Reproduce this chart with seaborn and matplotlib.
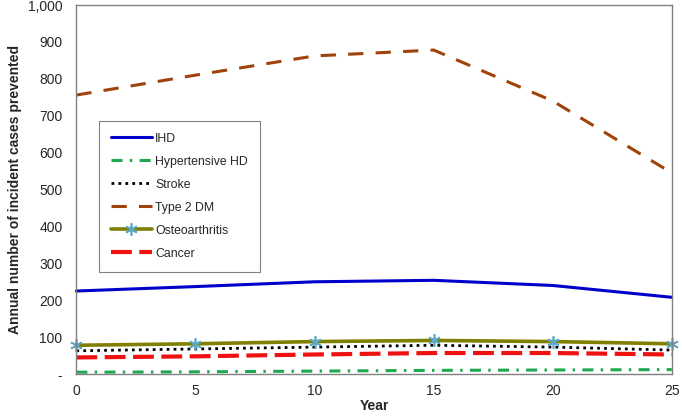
import matplotlib
matplotlib.use("Agg")
import matplotlib.pyplot as plt
import seaborn as sns
import pandas as pd
from matplotlib.ticker import FuncFormatter

# values
years = [0, 5, 10, 15, 20, 25]
ihd = [225, 237, 250, 254, 240, 208]
hypertensive_hd = [5, 6, 8, 10, 11, 12]
stroke = [63, 68, 73, 78, 73, 65]
type2_dm = [756, 810, 862, 878, 740, 545]
osteoarthritis = [78, 82, 88, 91, 88, 82]
cancer = [45, 48, 53, 57, 57, 53]

sns.set_style("white")
plt.rcParams['font.family'] = ['Liberation Sans', 'DejaVu Sans']

fig = plt.figure(figsize=(6.82, 4.17), dpi=100)
ax = fig.add_axes([0.112, 0.103, 0.873, 0.885])

series = [
    ("IHD", ihd, dict(color="#0000CC", linestyle="-", linewidth=2.2)),
    ("Hypertensive HD", hypertensive_hd, dict(color="#1EA84F", linestyle=(0, (3.6, 2.4, 0.8, 2.4)), linewidth=2.2)),
    ("Stroke", stroke, dict(color="black", linestyle=(0, (1, 1.5)), linewidth=2.0)),
    ("Type 2 DM", type2_dm, dict(color="#A0430A", linestyle=(0, (5, 4)), linewidth=2.2)),
    ("Osteoarthritis", osteoarthritis, dict(color="#808000", linestyle="-", linewidth=2.6,
                                             marker=(6, 2, 0), markersize=9,
                                             markeredgecolor="#5BA8C8", markeredgewidth=1.2)),
    ("Cancer", cancer, dict(color="#EE1111", linestyle=(0, (5, 1.8)), linewidth=3.0)),
]

for name, vals, style in series:
    df = pd.DataFrame({"Year": years, "Cases": vals})
    sns.lineplot(data=df, x="Year", y="Cases", ax=ax, label=name, clip_on=False, **style)

ax.set_xlim(0, 25)
ax.set_ylim(0, 1000)
ax.set_xticks(years)
ax.set_yticks(range(0, 1001, 100))
ax.yaxis.set_major_formatter(FuncFormatter(lambda v, p: "-" if v == 0 else f"{int(v):,}"))
ax.tick_params(axis="both", direction="out", length=4, color="#808080", labelsize=10, pad=6)
ax.tick_params(axis="x", pad=3)
for s in ax.spines.values():
    s.set_color("#808080")
    s.set_linewidth(1.0)

ax.set_xlabel("Year", fontsize=10, fontweight="bold", labelpad=1)
ax.set_ylabel("Annual number of incident cases prevented", fontsize=10, fontweight="bold")

leg = ax.legend(loc="upper left", bbox_to_anchor=(0.038, 0.687), frameon=True, fancybox=False,
                edgecolor="#808080", facecolor="white", framealpha=1.0, fontsize=8.8,
                handlelength=3.3, handletextpad=0.3, labelspacing=0.9, borderpad=1.0,
                borderaxespad=0)
leg.get_frame().set_linewidth(0.8)

fig.savefig("out.png", dpi=100)
